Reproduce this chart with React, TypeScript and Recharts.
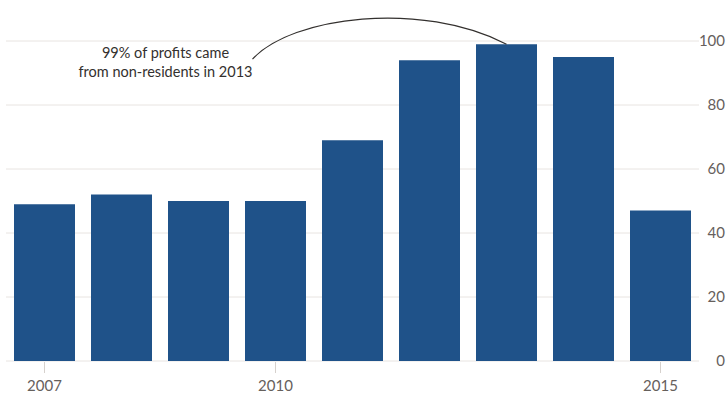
import { Bar, BarChart, CartesianGrid, XAxis, YAxis } from "recharts";

const years = ["2007", "2008", "2009", "2010", "2011", "2012", "2013", "2014", "2015"];
const profitShare = [49, 52, 50, 50, 69, 94, 99, 95, 47];
const yTicks = [0, 20, 40, 60, 80, 100];
const labelledYears = ["2007", "2010", "2015"];
const noteLines = ["99% of profits came", "from non-residents in 2013"];
const noteYear = "2013";

const data = years.map((year, i) => ({ year, value: profitShare[i] }));

const FONT = "Lato, 'Noto Sans', sans-serif";
const BAR = "#1f5289";
const GRID = "#e8e4e1";
const TEXT = "#66605c";

const XTick = (props: any) => {
	const { x, y, payload } = props;
	if (!labelledYears.includes(payload.value)) return null;
	return (
		<g>
			<line x1={x} x2={x} y1={y + 1} y2={y + 12} stroke="#d6d1cd" />
			<text
				x={x}
				y={y + 30}
				textAnchor="middle"
				fill={TEXT}
				fontSize={15}
				fontFamily={FONT}
			>
				{payload.value}
			</text>
		</g>
	);
};

const YTick = (props: any) => {
	const { x, y, payload } = props;
	return (
		<text
			x={x + 26}
			y={y}
			dy="0.355em"
			textAnchor="end"
			fill={TEXT}
			fontSize={15}
			fontFamily={FONT}
		>
			{payload.value}
		</text>
	);
};

// annotation hung off the 2013 bar, positioned relative to its top
const Note = (props: any) => {
	const { x, y, width, index } = props;
	if (data[index]?.year !== noteYear) return null;
	const cx = x + width / 2;
	return (
		<g>
			<path
				d={`M ${cx - 254} ${y + 15} C ${cx - 215} ${y - 28}, ${cx - 85} ${y - 44}, ${cx} ${y}`}
				fill="none"
				stroke="#33302e"
				strokeWidth={1.2}
			/>
			{noteLines.map((line, i) => (
				<text
					key={line}
					x={cx - 341}
					y={y + 14 + i * 19}
					textAnchor="middle"
					fill="#33302e"
					fontSize={14.5}
					fontFamily={FONT}
				>
					{line}
				</text>
			))}
		</g>
	);
};

export default function App() {
	return (
		<div
			style={{
				position: "absolute",
				left: 0,
				top: 0,
				width: 728,
				height: 394,
				background: "#fff",
				fontFamily: FONT,
			}}
		>
			<BarChart
				width={728}
				height={394}
				data={data}
				margin={{ top: 41, right: 0, bottom: 0, left: 6 }}
				style={{ overflow: "visible" }}
			>
				<CartesianGrid vertical={false} stroke={GRID} />
				<XAxis
					dataKey="year"
					axisLine={false}
					tickLine={false}
					tickSize={0}
					tickMargin={0}
					height={33}
					interval={0}
					tick={<XTick />}
				/>
				<YAxis
					orientation="right"
					domain={[0, 100]}
					ticks={yTicks}
					axisLine={false}
					tickLine={false}
					tickSize={0}
					tickMargin={0}
					width={29}
					tick={<YTick />}
				/>
				<Bar
					dataKey="value"
					fill={BAR}
					barSize={61}
					isAnimationActive={false}
					label={<Note />}
				/>
			</BarChart>
		</div>
	);
}
